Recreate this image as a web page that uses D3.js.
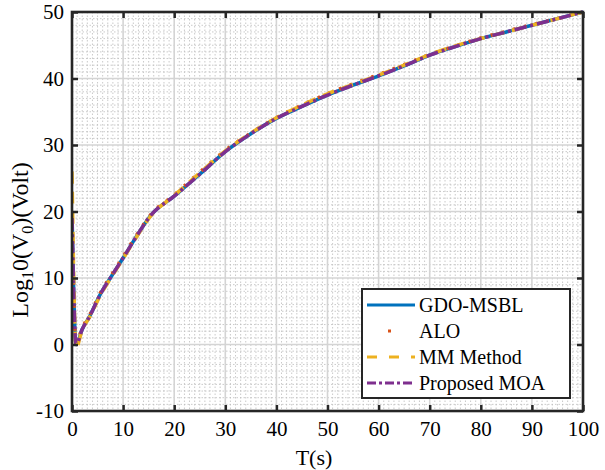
<!DOCTYPE html>
<html><head><meta charset="utf-8">
<script src="https://cdn.jsdelivr.net/npm/d3@7"></script>
<style>body{margin:0;background:#fff}svg{display:block}text{font-family:"Liberation Serif","Times New Roman",serif;fill:#000}</style>
</head><body><svg id="c" width="605" height="470"></svg>
<script>
const T = [0, 0.8, 2, 3.5, 5.5, 8, 10, 12, 15.5, 20, 25, 30, 35, 40, 45, 50, 55, 60, 65, 70, 75, 80, 85, 90, 95, 100];
const gdoMsbl = [20, 0, 2.3, 4.3, 7.5, 10.6, 13, 15.5, 19.5, 22.3, 25.6, 29, 31.7, 34, 35.8, 37.5, 39, 40.4, 41.9, 43.5, 44.8, 46, 47, 48, 49, 50];
const alo = [18, 0.3, 2.5, 4.5, 7.7, 10.8, 13.2, 15.7, 19.6, 22.5, 25.9, 29.2, 31.8, 34.1, 36, 37.7, 39.2, 40.6, 42.1, 43.6, 44.9, 46.1, 47.1, 48.1, 49, 50];
const mmMethod = [26, -0.5, 2.2, 4.2, 7.3, 10.5, 12.9, 15.4, 19.4, 22.4, 25.8, 29.1, 31.8, 34.1, 36, 37.7, 39.1, 40.5, 42, 43.6, 44.9, 46, 47, 48, 49, 50];
const proposedMoa = [19, 0, 2.3, 4.3, 7.5, 10.6, 13, 15.5, 19.5, 22.3, 25.6, 29, 31.7, 34, 35.8, 37.5, 39, 40.4, 41.9, 43.5, 44.8, 46, 47, 48, 49, 50];
const xTicks = [0,10,20,30,40,50,60,70,80,90,100];
const yTicks = [-10,0,10,20,30,40,50];
const seriesNames = ["GDO-MSBL","ALO","MM Method","Proposed MOA"];

const L=72,R=583,Tp=12,B=411;
const svg=d3.select("#c");
const x=d3.scaleLinear().domain([0,100]).range([L,R]);
const y=d3.scaleLinear().domain([-10,50]).range([B,Tp]);

// minor grid
const g=svg.append("g");
g.selectAll(".mx").data(d3.range(0,101,1).filter(v=>v%10)).enter().append("line")
 .attr("x1",d=>x(d)).attr("x2",d=>x(d)).attr("y1",Tp).attr("y2",B)
 .attr("stroke","#bdbdbd").attr("stroke-width",0.8).attr("stroke-dasharray","1.5,2");
g.selectAll(".my").data(d3.range(-10,51,1).filter(v=>v%10)).enter().append("line")
 .attr("y1",d=>y(d)).attr("y2",d=>y(d)).attr("x1",L).attr("x2",R)
 .attr("stroke","#bdbdbd").attr("stroke-width",0.8).attr("stroke-dasharray","1.5,2");
// major grid
g.selectAll(".gx").data(xTicks).enter().append("line")
 .attr("x1",d=>x(d)).attr("x2",d=>x(d)).attr("y1",Tp).attr("y2",B)
 .attr("stroke","#d4d4d4").attr("stroke-width",1.6);
g.selectAll(".gy").data(yTicks).enter().append("line")
 .attr("y1",d=>y(d)).attr("y2",d=>y(d)).attr("x1",L).attr("x2",R)
 .attr("stroke","#d4d4d4").attr("stroke-width",1.6);

svg.append("clipPath").attr("id","clp").append("rect").attr("x",L).attr("y",Tp-2).attr("width",R-L+2).attr("height",B-Tp+2);
const line=d3.line().x((d,i)=>x(T[i])).y(d=>y(d)).curve(d3.curveMonotoneX);
const styles=[
 {data:gdoMsbl,c:"#0072BD",w:3.5,da:null},
 {data:alo,c:"#D95319",w:3.5,da:"2.5,9"},
 {data:mmMethod,c:"#EDB120",w:3.5,da:"12,8"},
 {data:proposedMoa,c:"#7E2F8E",w:3.5,da:"12,4,3,4"}
];
const cg=svg.append("g").attr("clip-path","url(#clp)");
styles.forEach(s=>{
 cg.append("path").attr("d",line(s.data)).attr("fill","none").attr("stroke",s.c)
  .attr("stroke-width",s.w).attr("stroke-dasharray",s.da).attr("stroke-linejoin","round");
});

// axes box and ticks
const fmt=d=>String(d);
const ax=svg.append("g");
const axB=d3.axisBottom(x).tickValues(xTicks).tickSize(-6).tickPadding(10).tickFormat(fmt);
const axT=d3.axisTop(x).tickValues(xTicks).tickSize(-6).tickFormat("");
const axL=d3.axisLeft(y).tickValues(yTicks).tickSize(-6).tickPadding(8).tickFormat(fmt);
const axR=d3.axisRight(y).tickValues(yTicks).tickSize(-6).tickFormat("");
[[axB,`translate(0,${B})`],[axT,`translate(0,${Tp})`],[axL,`translate(${L},0)`],[axR,`translate(${R},0)`]].forEach(([a,t])=>{
 const gg=ax.append("g").attr("transform",t).call(a);
 gg.select(".domain").remove();
 gg.selectAll("line").attr("stroke","#262626").attr("stroke-width",2.5);
 gg.selectAll("text").style("font-size","21px").attr("fill","#000");
});
ax.append("rect").attr("x",L).attr("y",Tp).attr("width",R-L).attr("height",B-Tp)
 .attr("fill","none").attr("stroke","#262626").attr("stroke-width",2.6);

// labels
svg.append("text").attr("x",314).attr("y",465).attr("text-anchor","middle").style("font-size","22px").text("T(s)");
const yl=svg.append("text").attr("transform",`translate(28,240) rotate(-90)`).attr("text-anchor","middle")
 .style("font-size","24px");
yl.append("tspan").text("Log");
yl.append("tspan").attr("dy",5).style("font-size","16px").text("1");
yl.append("tspan").attr("dy",-5).text("0(V");
yl.append("tspan").attr("dy",5).style("font-size","16px").text("0");
yl.append("tspan").attr("dy",-5).text(")(Volt)");

// legend
const lg=svg.append("g");
lg.append("rect").attr("x",362).attr("y",289).attr("width",208).attr("height",109).attr("fill","#fff").attr("stroke","#262626").attr("stroke-width",2);
seriesNames.forEach((n,i)=>{
 const yy=305+i*26;
 const s=styles[i];
 if(i===1){
  lg.append("rect").attr("x",388).attr("y",yy-1.5).attr("width",3).attr("height",3).attr("fill",s.c);
 } else {
  lg.append("line").attr("x1",367).attr("x2",415).attr("y1",yy).attr("y2",yy).attr("stroke",s.c).attr("stroke-width",3)
   .attr("stroke-dasharray",i===2?"10,12":(i===3?"9,3,3,3":null));
 }
 lg.append("text").attr("x",419).attr("y",yy+7).style("font-size","20px").text(n);
});
</script></body></html>
